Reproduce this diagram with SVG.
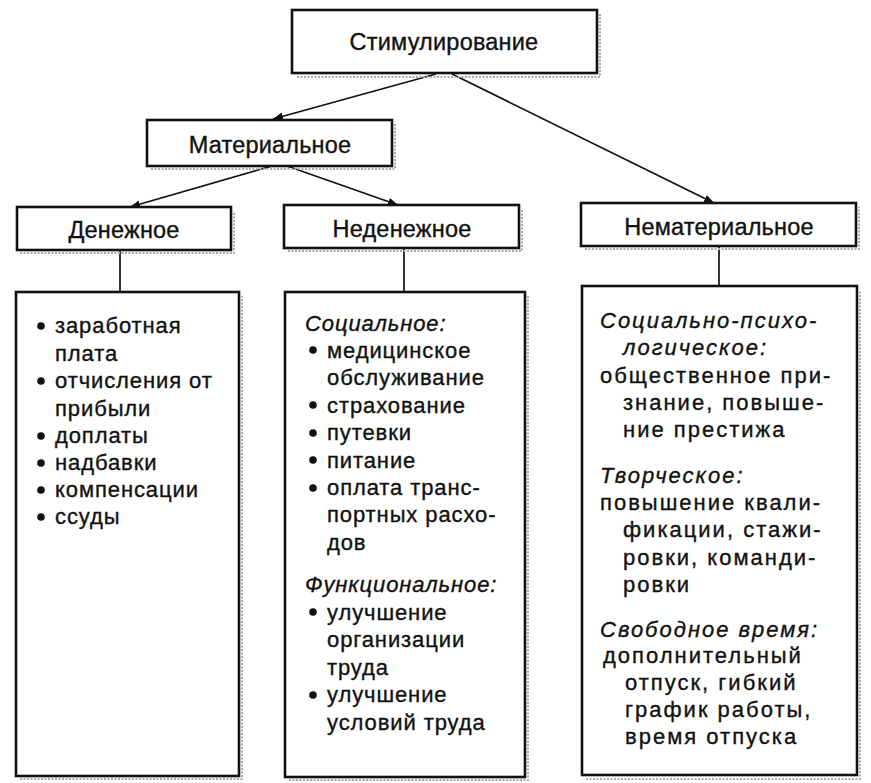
<svg xmlns="http://www.w3.org/2000/svg" width="871" height="783" viewBox="0 0 871 783">
<style>
.box{fill:#fff;stroke:#111;stroke-width:2.6}
.sh{fill:none;stroke:#aaa;stroke-width:2;stroke-dasharray:2 1.5}
.conn{stroke:#111;stroke-width:1.7;fill:none}
text{font-family:"Liberation Sans",Arial,sans-serif;font-size:22px;fill:#111;stroke:#111;stroke-width:0.35}
.hd{font-size:23.5px;letter-spacing:0.2px;text-anchor:middle}
.t{letter-spacing:0.9px}
.r{letter-spacing:2px}
.i{font-style:italic}
.dot{fill:#111}
</style>
<defs>
<marker id="arr" viewBox="0 0 10 10" refX="10" refY="5" markerWidth="10" markerHeight="10" markerUnits="userSpaceOnUse" orient="auto">
<path d="M0,1 L10,5 L0,9 Z" fill="#111"/>
</marker>
</defs>
<g id="connectors">
<line class="conn" x1="436" y1="74" x2="273" y2="119" marker-end="url(#arr)"/>
<line class="conn" x1="452" y1="74" x2="714" y2="203" marker-end="url(#arr)"/>
<line class="conn" x1="272" y1="166" x2="130" y2="207" marker-end="url(#arr)"/>
<line class="conn" x1="287" y1="166" x2="398" y2="205" marker-end="url(#arr)"/>
<line class="conn" x1="120" y1="250" x2="120" y2="292"/>
<line class="conn" x1="404" y1="248" x2="404" y2="292"/>
<line class="conn" x1="719" y1="246" x2="719" y2="286"/>
</g>
<g id="stim">
<path class="sh" d="M297,77 H600 V14"/>
<rect class="box" x="292" y="10" width="305" height="63"/>
<text class="hd" x="444" y="50">Стимулирование</text>
</g>
<g id="mat">
<path class="sh" d="M151,169 H395 V123"/>
<rect class="box" x="147" y="120" width="245" height="46"/>
<text class="hd" x="270" y="153">Материальное</text>
</g>
<g id="den">
<path class="sh" d="M20,253 H234 V211"/>
<rect class="box" x="17" y="207" width="214" height="43"/>
<text class="hd" x="124" y="238">Денежное</text>
</g>
<g id="neden">
<path class="sh" d="M288,251 H522 V209"/>
<rect class="box" x="284" y="205" width="235" height="43"/>
<text class="hd" x="402" y="237">Неденежное</text>
</g>
<g id="nemat">
<path class="sh" d="M585,249 H859 V207"/>
<rect class="box" x="581" y="203" width="275" height="43"/>
<text class="hd" x="719" y="235">Нематериальное</text>
</g>
<g id="den-list">
<path class="sh" d="M20,779 H242 V296"/>
<rect class="box" x="16" y="292" width="223" height="484"/>
<circle class="dot" cx="41" cy="326" r="3.8"/>
<circle class="dot" cx="41" cy="381" r="3.8"/>
<circle class="dot" cx="41" cy="436" r="3.8"/>
<circle class="dot" cx="41" cy="463" r="3.8"/>
<circle class="dot" cx="41" cy="490" r="3.8"/>
<circle class="dot" cx="41" cy="517" r="3.8"/>
<text class="t" x="55" y="333">заработная</text>
<text class="t" x="55" y="361">плата</text>
<text class="t" x="55" y="388">отчисления от</text>
<text class="t" x="55" y="416">прибыли</text>
<text class="t" x="55" y="443">доплаты</text>
<text class="t" x="55" y="470">надбавки</text>
<text class="t" x="55" y="497">компенсации</text>
<text class="t" x="55" y="524">ссуды</text>
</g>
<g id="neden-list">
<path class="sh" d="M289,780 H528 V296"/>
<rect class="box" x="285" y="292" width="240" height="485"/>
<text class="t i" x="305" y="331">Социальное:</text>
<circle class="dot" cx="313" cy="350" r="3.8"/>
<circle class="dot" cx="313" cy="405" r="3.8"/>
<circle class="dot" cx="313" cy="433" r="3.8"/>
<circle class="dot" cx="313" cy="460" r="3.8"/>
<circle class="dot" cx="313" cy="488" r="3.8"/>
<text class="t" x="327" y="358">медицинское</text>
<text class="t" x="327" y="385">обслуживание</text>
<text class="t" x="327" y="413">страхование</text>
<text class="t" x="327" y="440">путевки</text>
<text class="t" x="327" y="468">питание</text>
<text class="t" x="327" y="495">оплата транс-</text>
<text class="t" x="327" y="522">портных расхо-</text>
<text class="t" x="327" y="550">дов</text>
<text class="t i" x="305" y="592">Функциональное:</text>
<circle class="dot" cx="313" cy="612" r="3.8"/>
<circle class="dot" cx="313" cy="695" r="3.8"/>
<text class="t" x="327" y="620">улучшение</text>
<text class="t" x="327" y="647">организации</text>
<text class="t" x="327" y="675">труда</text>
<text class="t" x="327" y="702">улучшение</text>
<text class="t" x="327" y="730">условий труда</text>
</g>
<g id="nemat-list">
<path class="sh" d="M586,779 H860 V290"/>
<rect class="box" x="582" y="286" width="275" height="489"/>
<text class="r i" x="600" y="328">Социально-психо-</text>
<text class="r i" x="623" y="355">логическое:</text>
<text class="r" x="600" y="383">общественное при-</text>
<text class="r" x="623" y="410">знание, повыше-</text>
<text class="r" x="623" y="437">ние престижа</text>
<text class="r i" x="600" y="483">Творческое:</text>
<text class="r" x="600" y="510">повышение квали-</text>
<text class="r" x="623" y="537">фикации, стажи-</text>
<text class="r" x="623" y="565">ровки, команди-</text>
<text class="r" x="623" y="592">ровки</text>
<text class="r i" x="600" y="637">Свободное время:</text>
<text class="r" x="603" y="663">дополнительный</text>
<text class="r" x="625" y="690">отпуск, гибкий</text>
<text class="r" x="625" y="717">график работы,</text>
<text class="r" x="625" y="744">время отпуска</text>
</g>
</svg>
